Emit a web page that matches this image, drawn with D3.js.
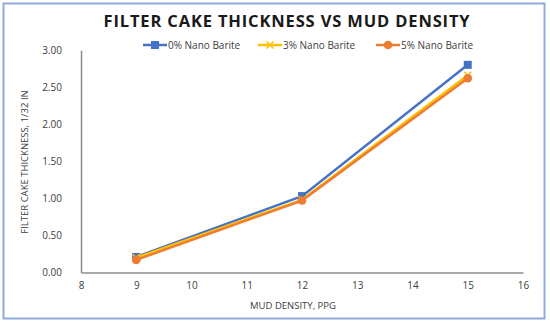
<!DOCTYPE html>
<html>
<head>
<meta charset="utf-8">
<script src="https://cdn.jsdelivr.net/npm/d3@7"></script>
<style>
  body { margin: 0; background: #fff; }
  text { font-family: "Open Sans", "Liberation Sans", sans-serif; }
</style>
</head>
<body>
<div id="chart"></div>
<script>
// 値は図から読み取ったもの
var density = [9, 12, 15];
var nano0 = [0.21, 1.03, 2.80];
var nano3 = [0.20, 0.98, 2.66];
var nano5 = [0.17, 0.97, 2.62];
var seriesNames = ["0% Nano Barite", "3% Nano Barite", "5% Nano Barite"];
var xTicks = [8, 9, 10, 11, 12, 13, 14, 15, 16];
var yTicks = [0, 0.5, 1, 1.5, 2, 2.5, 3];

var width = 550, height = 324;
var colors = ["#4472c4", "#ffc000", "#ed7d31"];
var shapes = ["square", "cross", "circle"];

var svg = d3.select("#chart")
  .append("svg")
  .attr("width", width)
  .attr("height", height);

// 外枠
svg.append("rect")
  .attr("x", 3.5).attr("y", 3.5)
  .attr("width", 541).attr("height", 315)
  .attr("fill", "#fff")
  .attr("stroke", "#8eaadb")
  .attr("stroke-width", 2);

var x = d3.scaleLinear().domain([8, 16]).range([81, 523]);
var y = d3.scaleLinear().domain([0, 3]).range([272.5, 50]);

// タイトル
svg.append("text")
  .attr("x", 287).attr("y", 27)
  .attr("text-anchor", "middle")
  .attr("font-size", 16.5)
  .attr("font-weight", "bold")
  .attr("letter-spacing", 0.85)
  .attr("fill", "#1a1a1a")
  .text("FILTER CAKE THICKNESS VS MUD DENSITY");

// 軸
var xAxis = svg.append("g")
  .attr("transform", "translate(0," + y(0) + ")")
  .call(d3.axisBottom(x).tickValues(xTicks).tickSize(0).tickPadding(9).tickFormat(d3.format("d")));
var yAxis = svg.append("g")
  .attr("transform", "translate(" + x(8) + ",0)")
  .call(d3.axisLeft(y).tickValues(yTicks).tickSize(0).tickPadding(19).tickFormat(d3.format(".2f")));

[xAxis, yAxis].forEach(function (g) {
  g.select(".domain").attr("stroke", "#8c8c8c").attr("stroke-width", 1.5);
  g.selectAll("text").attr("font-size", 10).attr("fill", "#404040")
    .style("font-family", "'Open Sans', sans-serif");
});

svg.append("text")
  .attr("x", 293).attr("y", 309)
  .attr("text-anchor", "middle")
  .attr("font-size", 9.5)
  .attr("fill", "#404040")
  .text("MUD DENSITY, PPG");

svg.append("text")
  .attr("transform", "translate(28,162) rotate(-90)")
  .attr("text-anchor", "middle")
  .attr("font-size", 9.5)
  .attr("fill", "#404040")
  .text("FILTER CAKE THICKNESS, 1/32 IN");

// マーカー
function drawMarker(g, shape, color, cx, cy) {
  if (shape == "square") {
    g.append("rect")
      .attr("x", cx - 4).attr("y", cy - 4)
      .attr("width", 8).attr("height", 8)
      .attr("fill", color);
  } else if (shape == "circle") {
    g.append("circle")
      .attr("cx", cx).attr("cy", cy).attr("r", 4.3)
      .attr("fill", color);
  } else {
    g.append("path")
      .attr("d", "M" + (cx - 3.5) + "," + (cy - 3.5) + "L" + (cx + 3.5) + "," + (cy + 3.5) +
        "M" + (cx + 3.5) + "," + (cy - 3.5) + "L" + (cx - 3.5) + "," + (cy + 3.5))
      .attr("stroke", color).attr("stroke-width", 1.5);
  }
}

var line = d3.line()
  .x(function (d) { return x(d[0]); })
  .y(function (d) { return y(d[1]); });

[nano0, nano3, nano5].forEach(function (vals, i) {
  var pts = density.map(function (d, j) { return [d, vals[j]]; });
  var g = svg.append("g");
  g.append("path")
    .datum(pts)
    .attr("d", line)
    .attr("fill", "none")
    .attr("stroke", colors[i])
    .attr("stroke-width", 2.5);
  pts.forEach(function (p) {
    drawMarker(g, shapes[i], colors[i], x(p[0]), y(p[1]));
  });
});

// 凡例
var legendX = [143, 258, 376];
seriesNames.forEach(function (name, i) {
  var lg = svg.append("g");
  var lx = legendX[i], ly = 45;
  lg.append("line")
    .attr("x1", lx).attr("x2", lx + 24)
    .attr("y1", ly).attr("y2", ly)
    .attr("stroke", colors[i]).attr("stroke-width", 2.5);
  drawMarker(lg, shapes[i], colors[i], lx + 12, ly);
  lg.append("text")
    .attr("x", lx + 25).attr("y", ly + 3.5)
    .attr("font-size", 10)
    .attr("fill", "#404040")
    .text(name);
});
</script>
</body>
</html>
